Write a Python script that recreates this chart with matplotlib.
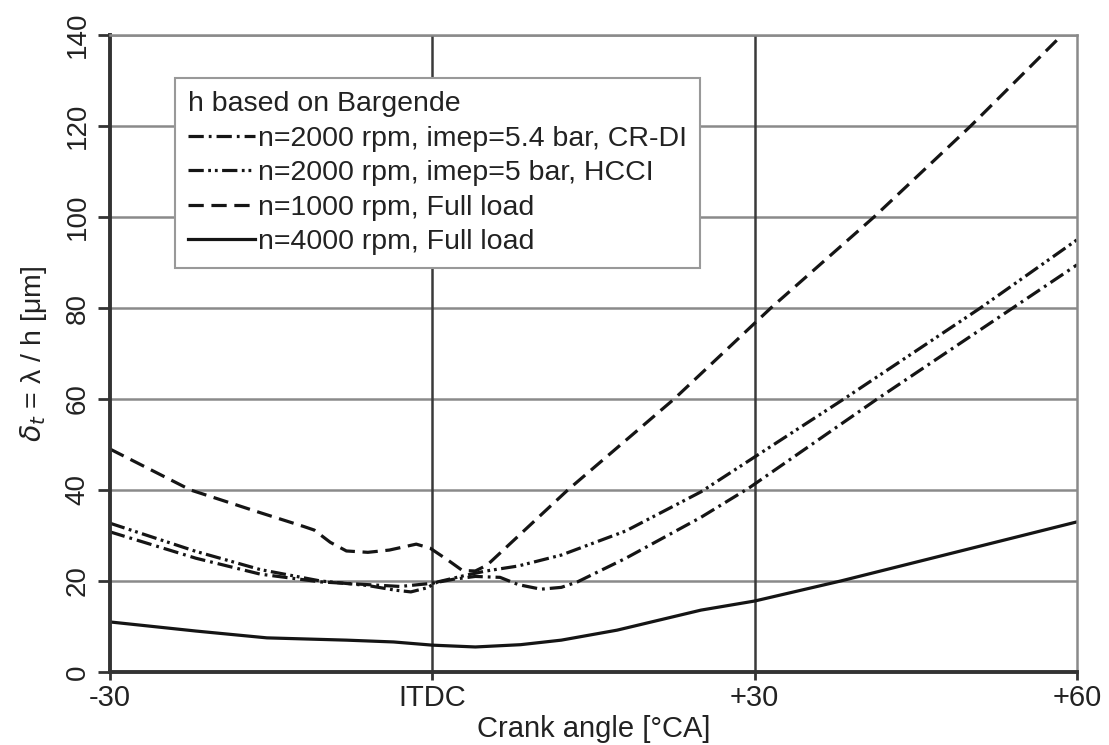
import matplotlib
matplotlib.use("Agg")
import matplotlib.pyplot as plt
from matplotlib.lines import Line2D

# crank angle / delta_t series
x_crdi = [-30, -22, -16, -10.4, -6, -3, 0, 2, 4, 6.3, 8, 10.1, 12, 13.5, 18, 25, 29.5, 41.4, 60]
y_crdi = [30.8, 25, 21.5, 19.8, 19.2, 18.8, 19.5, 20.4, 21, 20.8, 19.2, 18.2, 18.6, 19.8, 25, 34, 40.5, 60, 89.5]

x_hcci = [-30, -22, -16, -10.4, -6, -3.5, -2, -0.5, 0.5, 3, 5, 8, 12, 18, 25, 38.3, 51, 60]
y_hcci = [32.7, 26.5, 22.5, 20, 19, 18, 17.6, 18.5, 19.8, 21.2, 22.2, 23.3, 25.7, 31, 39.6, 60, 80, 95]

x_1000 = [-30, -22.5, -16, -12, -11, -9.5, -8, -6, -4, -1.5, -0.2, 1.5, 2.8, 4, 5.1, 7.6,
          12.6, 22.5, 31.5, 41.1, 50.1, 58.6, 60]
y_1000 = [49, 40, 35, 32, 31.2, 28.5, 26.6, 26.3, 26.8, 28.1, 27.2, 24.5, 22.3, 22.2, 23.5, 29,
          40, 60, 80, 100, 120, 140, 143.5]

x_4000 = [-30, -22, -15.4, -8, -3.6, 0, 4, 8.2, 12, 17.2, 25, 30, 38, 60]
y_4000 = [11, 9, 7.5, 7, 6.6, 5.9, 5.5, 6, 7, 9.2, 13.6, 15.6, 20, 33]

labels = ["n=2000 rpm, imep=5.4 bar, CR-DI",
          "n=2000 rpm, imep=5 bar, HCCI",
          "n=1000 rpm, Full load",
          "n=4000 rpm, Full load"]
xticks = [-30, 0, 30, 60]
xticklabels = ["-30", "ITDC", "+30", "+60"]
yticks = list(range(0, 141, 20))

plt.rcParams['lines.scale_dashes'] = False
font = ['Liberation Sans', 'DejaVu Sans']

fig = plt.figure(figsize=(11.09, 7.45), dpi=100)
ax = fig.add_axes([0.0992, 0.098, 0.8720, 0.855])

lw = 2.3
ink = '#151515'
ax.plot(x_crdi, y_crdi, color=ink, lw=lw, dashes=(11, 3.6, 2, 3.6))
ax.plot(x_hcci, y_hcci, color=ink, lw=lw, dashes=(11, 3.2, 2, 2.8, 2, 3.2))
ax.plot(x_1000, y_1000, color=ink, lw=lw, dashes=(11, 5.5))
ax.plot(x_4000, y_4000, color=ink, lw=lw)

ax.set_xlim(-30, 60)
ax.set_ylim(0, 140)

# grid: grey horizontals, darker verticals
for yv in yticks[1:]:
    ax.axhline(yv, color='#8a8a8a', lw=1.8, zorder=0)
for xv in [0, 30]:
    ax.axvline(xv, color='#3a3a3a', lw=1.8, zorder=0)

for side in ['top', 'right']:
    ax.spines[side].set_color('#8a8a8a')
    ax.spines[side].set_linewidth(1.8)
for side in ['left', 'bottom']:
    ax.spines[side].set_color('#333333')
    ax.spines[side].set_linewidth(2.8)

ax.set_xticks(xticks)
ax.set_xticklabels(xticklabels, fontfamily=font, fontsize=21, color='#222222')
ax.set_yticks(yticks)
ax.set_yticklabels([str(v) for v in yticks], fontfamily=font, fontsize=20,
                   color='#222222', rotation=90, va='center')
ax.tick_params(axis='x', direction='out', length=6, width=2, color='#333333', pad=3)
ax.tick_params(axis='y', direction='out', length=9, width=2, color='#333333', pad=5)

ax.set_xlabel("Crank angle [°CA]", fontfamily=font, fontsize=21, color='#222222', labelpad=2)
ax.set_ylabel(r"$\delta_t$ = λ / h [μm]", fontfamily=font, fontsize=20.5,
              color='#222222', labelpad=11)

handles = [
    Line2D([], [], color=ink, lw=lw, dashes=(11, 3.6, 2, 3.6)),
    Line2D([], [], color=ink, lw=lw, dashes=(11, 3.2, 2, 2.8, 2, 3.2)),
    Line2D([], [], color=ink, lw=lw, dashes=(11, 5.5)),
    Line2D([], [], color=ink, lw=lw),
]
leg = ax.legend(handles, labels, title="h based on Bargende", loc='upper left',
                bbox_to_anchor=(0.067, 0.932), borderaxespad=0, fancybox=False,
                shadow=False, framealpha=1, edgecolor='#999999',
                prop={'family': font, 'size': 20.5},
                title_fontproperties={'family': font, 'size': 20.5},
                handlelength=2.35, handletextpad=0.12, labelspacing=0.3,
                borderpad=0.45, alignment='left')
leg.get_frame().set_linewidth(1.5)
for t in leg.get_texts():
    t.set_color('#222222')
leg.get_title().set_color('#222222')

fig.savefig("out.png", dpi=100)
